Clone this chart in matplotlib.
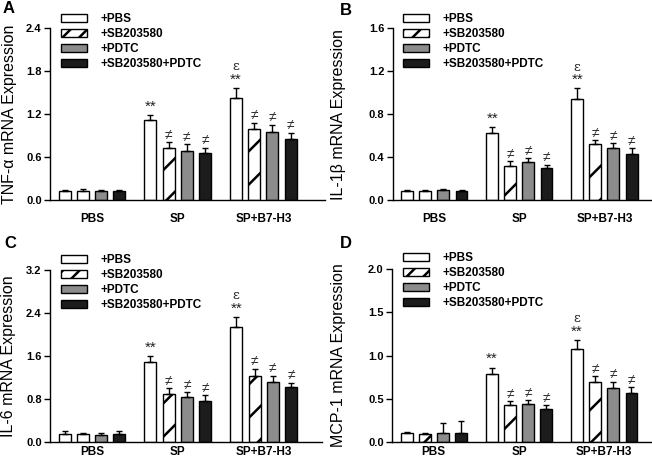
import matplotlib
matplotlib.use("Agg")
import matplotlib.pyplot as plt
from matplotlib.patches import Patch
import numpy as np

plt.rcParams['font.family'] = ['Liberation Sans', 'DejaVu Sans']
plt.rcParams['hatch.linewidth'] = 1.8

groups = ["PBS", "SP", "SP+B7-H3"]
series = ["+PBS", "+SB203580", "+PDTC", "+SB203580+PDTC"]

# values [series][group], errors [series][group]
tnf_vals = [[0.12, 1.12, 1.43], [0.13, 0.72, 0.99], [0.12, 0.69, 0.95], [0.12, 0.65, 0.85]]
tnf_errs = [[0.02, 0.07, 0.14], [0.03, 0.09, 0.09], [0.02, 0.09, 0.10], [0.02, 0.08, 0.09]]
il1_vals = [[0.08, 0.62, 0.94], [0.08, 0.32, 0.52], [0.09, 0.35, 0.48], [0.085, 0.30, 0.43]]
il1_errs = [[0.01, 0.06, 0.10], [0.01, 0.04, 0.04], [0.01, 0.04, 0.05], [0.005, 0.03, 0.05]]
il6_vals = [[0.15, 1.48, 2.13], [0.14, 0.89, 1.23], [0.13, 0.84, 1.12], [0.15, 0.76, 1.01]]
il6_errs = [[0.04, 0.12, 0.19], [0.03, 0.11, 0.13], [0.03, 0.08, 0.11], [0.04, 0.10, 0.09]]
mcp_vals = [[0.097, 0.78, 1.07], [0.093, 0.42, 0.69], [0.10, 0.44, 0.625], [0.10, 0.375, 0.565]]
mcp_errs = [[0.011, 0.08, 0.11], [0.01, 0.05, 0.07], [0.12, 0.04, 0.07], [0.135, 0.05, 0.065]]

ylabels = ["TNF-\u03b1 mRNA Expression", "IL-1\u03b2 mRNA Expression",
           "IL-6 mRNA Expression", "MCP-1 mRNA Expression"]
yticks = [[0.0, 0.6, 1.2, 1.8, 2.4], [0.0, 0.4, 0.8, 1.2, 1.6],
          [0.0, 0.8, 1.6, 2.4, 3.2], [0.0, 0.5, 1.0, 1.5, 2.0]]
panel_letters = ["A", "B", "C", "D"]

faces = ["white", "white", "#8c8c8c", "#1c1c1c"]
hatches = [None, "/", None, None]
legend_hatches = [None, "//", None, None]

W, H = 652, 463
fig = plt.figure(figsize=(W / 100, H / 100), dpi=100)

# axes pixel boxes: (left, right, bottom_y, top_y, xlim_left, xlim_right)
boxes = [
    (50, 325, 200, 28.3, -0.49, 2.72),
    (392.7, 652, 200, 28.3, -0.49, 2.56),
    (50, 322, 441.7, 269.7, -0.49, 2.68),
    (392, 652, 441.7, 269.3, -0.49, 2.56),
]
legend_pos = [(61, 13), (402.7, 13), (61, 254), (402.7, 252)]
letter_pos = [(3, 1), (340, 3), (4, 236), (340, 236)]
ylabel_right = [17.5, 346.5, 16.5, 346.5]
xpad = [9, 9, 3, 3]

all_vals = [tnf_vals, il1_vals, il6_vals, mcp_vals]
all_errs = [tnf_errs, il1_errs, il6_errs, mcp_errs]

x = np.arange(len(groups))
spacing = 0.213
bw = 0.14
offsets = (np.arange(4) - 1.5) * spacing

for p in range(4):
    l, r, b, t, xl, xr = boxes[p]
    ax = fig.add_axes([l / W, 1 - b / H, (r - l) / W, (b - t) / H])
    vals = all_vals[p]
    errs = all_errs[p]
    ymax = yticks[p][-1]
    handles = []
    for s in range(4):
        v = np.array(vals[s])
        e = np.array(errs[s])
        ax.bar(x + offsets[s], v, bw, color=faces[s], edgecolor="black",
               linewidth=1.0, hatch=hatches[s], label=series[s], zorder=2)
        ax.errorbar(x + offsets[s], v, yerr=[np.zeros_like(e), e], fmt="none",
                    ecolor="black", elinewidth=1.0, capsize=2.5, capthick=1.0, zorder=3)
        handles.append(Patch(facecolor=faces[s], edgecolor="black", linewidth=1.0,
                             hatch=legend_hatches[s]))
        for g in range(3):
            top = v[g] + e[g]
            if g >= 1:
                if s == 0:
                    ax.text(x[g] + offsets[s], top + ymax * 0.008, "**", ha="center",
                            va="bottom", fontsize=11, color="#222222")
                    if g == 2:
                        ax.text(x[g] + offsets[s], top + ymax * 0.085, "\u03b5", ha="center",
                                va="bottom", fontsize=9.5, color="#222222",
                                family=["DejaVu Serif"])
                else:
                    ax.text(x[g] + offsets[s], top + ymax * 0.008, "\u2260", ha="center",
                            va="bottom", fontsize=10, color="#333333")
    ax.set_xlim(xl, xr)
    ax.set_ylim(0, ymax)
    ax.set_yticks(yticks[p])
    ax.set_yticklabels(["{:.1f}".format(tk) for tk in yticks[p]],
                       fontsize=8, fontweight="bold")
    ax.set_xticks(x)
    ax.set_xticklabels(groups, fontsize=8.5, fontweight="bold")
    ax.tick_params(axis="x", length=0, pad=xpad[p])
    ax.tick_params(axis="y", direction="out", length=4, width=1, pad=2)
    for side in ["top", "right"]:
        ax.spines[side].set_visible(False)
    ax.spines["left"].set_linewidth(1.0)
    ax.spines["bottom"].set_linewidth(1.0)
    ax.set_ylabel(ylabels[p], fontsize=11.5)
    ax.yaxis.set_label_coords((ylabel_right[p] - l) / (r - l), 0.5)
    lx, ly = legend_pos[p]
    ax.legend(handles=handles, labels=series, loc="upper left",
              bbox_to_anchor=(lx / W, 1 - ly / H), bbox_transform=fig.transFigure,
              frameon=False, borderpad=0, borderaxespad=0,
              handlelength=2.2, handleheight=0.68, handletextpad=1.15,
              labelspacing=0.25, prop={"size": 8.5, "weight": "bold"})
    px, py = letter_pos[p]
    fig.text(px / W, 1 - py / H, panel_letters[p], fontsize=12, fontweight="bold",
             ha="left", va="top")

fig.savefig("out.png", dpi=100)
